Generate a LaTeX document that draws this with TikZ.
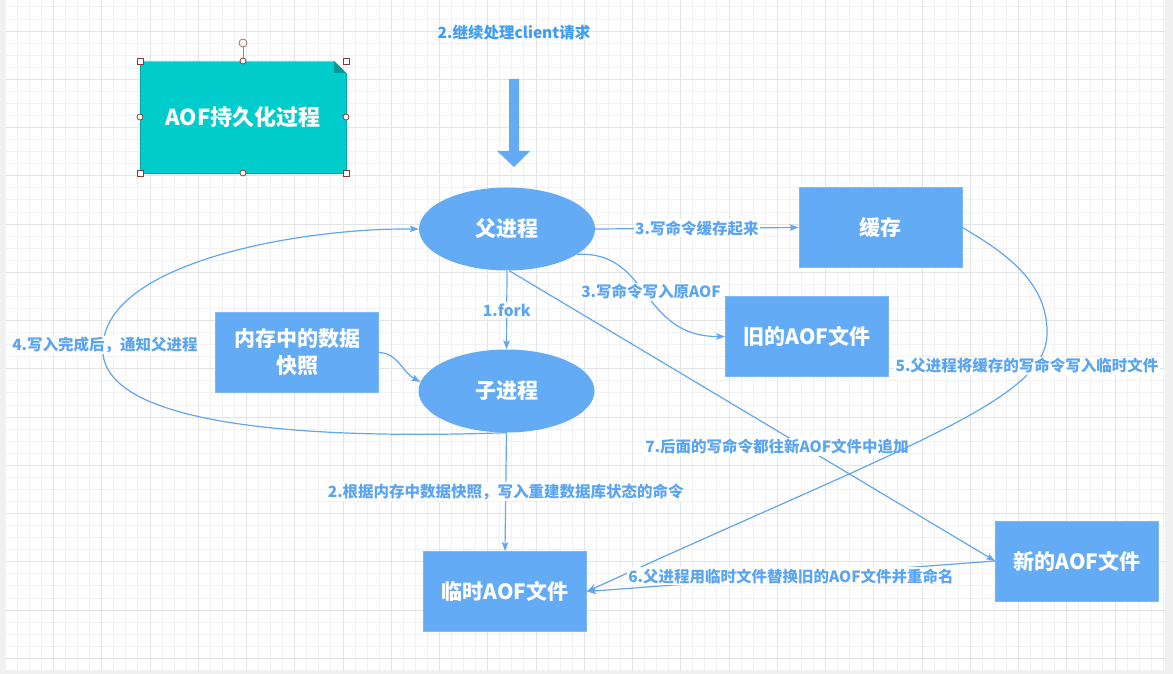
\documentclass[tikz,border=0pt]{standalone}
\usepackage{fontspec}
\setmainfont{Noto Sans CJK SC}
\usetikzlibrary{arrows.meta,shapes.geometric}
\definecolor{boxblue}{HTML}{63ABF5}
\definecolor{linkblue}{HTML}{62A6F0}
\definecolor{lbl}{HTML}{5AA4F2}
\definecolor{toplbl}{HTML}{3D9CF5}
\definecolor{tealA}{HTML}{00CCCC}
\definecolor{tealB}{HTML}{009A9A}
\definecolor{gridmin}{HTML}{F2F2F2}
\definecolor{gridmaj}{HTML}{E4E4E4}
\definecolor{outerbg}{HTML}{F0F0F0}
\definecolor{handlec}{HTML}{8B3A3A}
\definecolor{rothandle}{HTML}{B07A7A}
\begin{document}
\begin{tikzpicture}[x=1pt,y=-1pt,
  bluebox/.style={draw=boxblue!85!white, line width=0.8pt, fill=boxblue, text=white,
    font=\bfseries\fontsize{21}{27}\selectfont, minimum width=163pt, minimum height=80pt,
    inner sep=0pt, align=center},
  blueell/.style={ellipse, fill=boxblue, text=white, font=\bfseries\fontsize{21}{25}\selectfont,
    minimum width=176pt, minimum height=83pt, inner sep=0pt},
  conn/.style={draw=linkblue, line width=1.2pt, -{Stealth[length=9pt,width=6.5pt,inset=2pt]}},
  lab/.style={fill=white, text=lbl, font=\bfseries\fontsize{15.5}{18}\selectfont, inner sep=1.5pt},
  toplab/.style={text=toplbl, font=\bfseries\fontsize{15.5}{18}\selectfont, inner sep=1pt},
  titletext/.style={text=white, font=\bfseries\fontsize{22}{26}\selectfont, inner sep=0pt},
  hsq/.style={draw=handlec, fill=white, line width=0.8pt, minimum size=6pt, inner sep=0pt},
  hcirc/.style={circle, draw=handlec, fill=white, line width=0.8pt, minimum size=6pt, inner sep=0pt},
  hrot/.style={circle, draw=rothandle, fill=white, line width=0.9pt, minimum size=8pt, inner sep=0pt},
  gmin/.style={draw=gridmin, line width=0.8pt},
  gmaj/.style={draw=gridmaj, line width=0.8pt}
]
\useasboundingbox (0,0) rectangle (1173,674);
% page and grid
\fill[outerbg] (0,0) rectangle (1173,674);
\fill[white] (5,0) rectangle (1165,671);
\foreach \i in {0,...,96} {
  \pgfmathsetmacro\gx{5.2+12.0625*\i}
  \draw[gmin] (\gx,0) -- (\gx,671);
}
\foreach \j in {2,...,57} {
  \pgfmathsetmacro\gy{-17.25+12.0625*\j}
  \draw[gmin] (5,\gy) -- (1165,\gy);
}
\foreach \i in {1,...,23} {
  \pgfmathsetmacro\gx{5.2+48.25*\i}
  \draw[gmaj] (\gx,0) -- (\gx,671);
}
\foreach \j in {1,...,14} {
  \pgfmathsetmacro\gy{-17.25+48.25*\j}
  \draw[gmaj] (5,\gy) -- (1165,\gy);
}

% title note shape
\fill[tealA] (140,61) -- (334,61) -- (346,73) -- (346,173) -- (140,173) -- cycle;
\fill[tealB] (334,61) -- (334,73) -- (346,73) -- cycle;
\draw[tealB!70!tealA, line width=0.7pt] (140,61) -- (140,173) -- (346,173) -- (346,73);
\draw[rothandle!60!white, line width=0.8pt] (140,61) -- (334,61);
\node[titletext] (title) at (243,117) {AOF持久化过程};
% selection handles
\draw[rothandle, line width=0.9pt] (243,47) -- (243,61);
\node[hrot] (hrot) at (243,43) {};
\foreach \x/\y/\n in {140/61/a,346/61/b,140/173/c,346/173/d}
  \node[hsq] (hs\n) at (\x,\y) {};
\foreach \x/\y/\n in {243/61/a,140/117/b,346/117/c,243/173/d}
  \node[hcirc] (hc\n) at (\x,\y) {};

% top request label and block arrow
\node[toplab] (req) at (514,33) {2.继续处理client请求};
\fill[boxblue] (509,79) -- (519,79) -- (519,151) -- (530,151) -- (514,167) -- (497,151) -- (509,151) -- cycle;

% nodes
\node[blueell] (parent) at (507,229) {父进程};
\node[blueell] (child) at (506.5,391) {子进程};
\node[bluebox] (cache) at (880.5,227.5) {缓存};
\node[bluebox] (old) at (807,336.5) {旧的AOF文件};
\node[bluebox] (snap) at (297,352.5) {内存中的数据\\快照};
\node[bluebox] (tmp) at (505,591.5) {临时AOF文件};
\node[bluebox] (new) at (1077,561) {新的AOF文件};

% connectors
\draw[conn] (parent.east) -- node[lab] (l3a) {3.写命令缓存起来} (cache.west);
\draw[conn] (parent.-20) .. controls (650,250) and (640,337) .. (old.west);
\node[lab] (l3b) at (651,292) {3.写命令写入原AOF};
\draw[conn] (parent.south) -- node[lab] (l1) {1.fork} (child.north);
\draw[conn] (parent.-87) -- (new.west);
\node[lab] (l7) at (777,447) {7.后面的写命令都往新AOF文件中追加};
\coordinate (e5) at (1047,335);
\draw[conn] (cache.east) .. controls (1000,250) and (1049,280) .. (e5)
  .. controls (1045,400) and (910,444) .. (tmp.east);
\node[lab] (l5) at (1027,366) {5.父进程将缓存的写命令写入临时文件};
\draw[conn] (new.west) -- node[lab] (l6) {6.父进程用临时文件替换旧的AOF文件并重命名} (tmp.east);
\coordinate (g4) at (103,345);
\draw[conn] (child.south) .. controls (300,440) and (95,425) .. (g4)
  .. controls (108,262) and (300,228) .. (parent.west);
\node[lab] (l4) at (105,345) {4.写入完成后，通知父进程};
\draw[conn] (snap.east) .. controls (398,353) and (402,372) .. (child.174);
\draw[conn] (child.south) -- node[lab] (l2) {2.根据内存中数据快照，写入重建数据库状态的命令} (tmp.north);
\end{tikzpicture}
\end{document}
